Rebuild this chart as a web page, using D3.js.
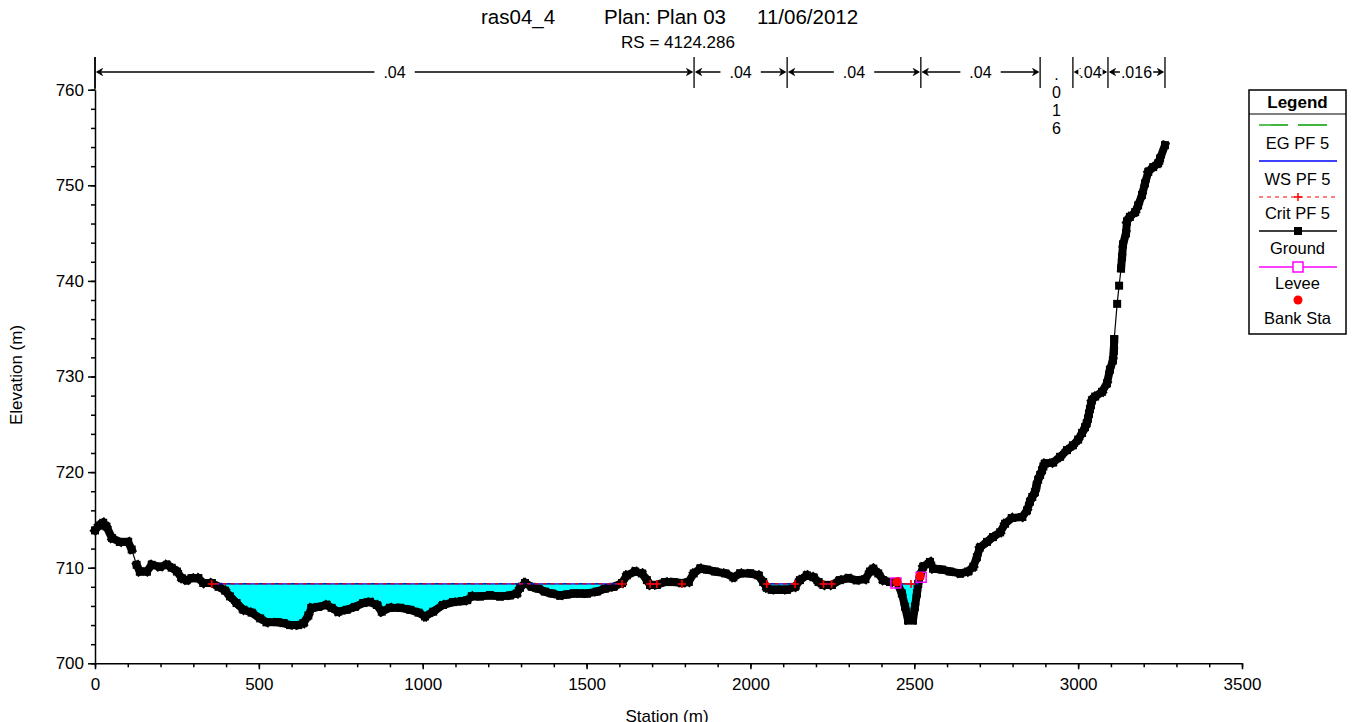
<!DOCTYPE html>
<html><head><meta charset="utf-8">
<script src="https://cdn.jsdelivr.net/npm/d3@7"></script>
<style>
body{margin:0;background:#fff;}
svg{display:block;}
text{font-family:Arial,"Liberation Sans",sans-serif;fill:#000;}
</style>
</head><body>
<svg id="c" width="1359" height="722"></svg>
<script>
// ---------- DATA ----------
const groundStation = [0,12,25,35,52,76,101,112,127,137,158,173,198,219,234,250,265,280,295,315,331,356,377,397,412,432,453,478,504,524,555,575,595,620,636,651,661,681,707,722,742,768,793,819,839,860,875,900,931,961,987,1007,1032,1062,1093,1120,1135,1150,1175,1205,1236,1266,1287,1297,1312,1333,1353,1373,1394,1419,1440,1460,1480,1501,1531,1556,1582,1608,1623,1648,1669,1684,1694,1714,1740,1765,1791,1811,1827,1847,1867,1892,1923,1948,1969,1999,2024,2039,2050,2065,2081,2096,2111,2136,2151,2172,2192,2208,2223,2248,2273,2299,2324,2350,2365,2375,2390,2405,2426,2447,2462,2472,2481,2496,2502,2508,2512,2518,2527,2548,2558,2584,2609,2640,2664,2680,2691,2700,2722,2740,2762,2777,2798,2829,2844,2853,2860,2868,2873,2878,2884,2890,2894,2899,2923,2945,2966,2984,3000,3012,3021,3026,3030,3033,3036,3039,3042,3052,3073,3088,3097,3106,3109,3110,3119,3125,3131,3134,3137,3146,3149,3158,3174,3183,3195,3204,3214,3229,3244,3250,3265];
const groundElev = [713.9,714.4,714.7,714.3,713.1,712.7,712.7,711.9,710.3,709.6,709.6,710.3,710.1,710.3,710.0,709.6,708.9,708.7,708.9,708.9,708.4,708.4,708.0,707.6,707.0,706.3,705.6,705.3,704.7,704.3,704.3,704.2,704.0,704.0,704.2,705.0,705.8,705.9,706.1,705.8,705.4,705.6,705.9,706.3,706.4,706.1,705.4,705.8,705.8,705.6,705.3,704.9,705.4,706.1,706.4,706.5,706.6,707.0,707.0,707.1,707.0,707.1,707.3,707.9,708.4,708.0,707.8,707.5,707.3,707.1,707.2,707.3,707.3,707.3,707.5,707.8,708.0,708.4,709.2,709.6,709.4,708.7,708.2,708.2,708.5,708.5,708.4,708.5,709.4,709.9,709.8,709.6,709.4,709.0,709.4,709.4,709.2,708.5,707.9,707.7,707.7,707.7,707.7,708.0,708.7,709.2,709.0,708.5,708.2,708.2,708.7,708.9,708.7,708.8,709.6,709.9,709.4,708.7,708.5,708.5,707.3,705.9,704.5,704.5,705.9,707.3,708.3,709.2,710.1,710.6,709.9,709.8,709.6,709.4,709.6,710.1,711.1,712.1,712.7,713.2,713.7,714.6,715.2,715.3,716.0,716.9,717.4,717.9,718.6,719.2,719.7,720.2,720.6,720.9,721.0,721.6,722.3,722.8,723.4,724.1,724.7,725.1,725.6,726.1,726.6,727.0,727.5,727.9,728.4,729.3,730.7,731.7,732.7,733.9,737.6,739.5,741.3,742.5,743.8,745.0,746.2,746.7,747.2,747.9,749.0,750.2,751.4,751.9,752.3,752.8,754.2];

const wsElev = 708.3;      // WS PF 5
const egElev = 708.33;     // EG PF 5
const critElev = 708.3;    // Crit PF 5
const critStations = [356,1608,1694,1714,1791,2050,2136,2223,2248,2490];
const leveeStations = [2444,2521];
const leveeElev = [708.4,709.0];
const bankStations = [2447,2518];
const bankElev = [708.5,709.1];

const nStations = [0,1828,2112,2520,2884,2984,3091,3265];
const nValues = [".04",".04",".04",".04",".016",".04",".016"];

const xTicks = [0,500,1000,1500,2000,2500,3000,3500];
const yTicks = [700,710,720,730,740,750,760];
const legendItems = ["EG PF 5","WS PF 5","Crit PF 5","Ground","Levee","Bank Sta"];

const titleParts = ["ras04_4","Plan: Plan 03","11/06/2012"];
const subTitle = "RS = 4124.286";

// ---------- DRAW ----------
const svg = d3.select("#c");
const x = d3.scaleLinear().domain([0,3500]).range([95,1242]);
const y = d3.scaleLinear().domain([700,760]).range([663.3,89.7]);
const ground = groundStation.map((s,i)=>({s, e: groundElev[i]}));
const sMax = groundStation[groundStation.length-1];

// titles
const titleX = [481, 604, 757];
titleParts.forEach((t,i)=>svg.append("text").attr("x",titleX[i]).attr("y",24)
  .attr("font-size",20.5).text(t));
svg.append("text").attr("x",678).attr("y",48).attr("text-anchor","middle")
  .attr("font-size",17).text(subTitle);

// clip: region above ground line
const clipPts = [[x(0),0]].concat(ground.map(d=>[x(d.s),y(d.e)])).concat([[x(sMax),0]]);
svg.append("clipPath").attr("id","wet").append("path").attr("d", d3.line()(clipPts)+"Z");

// water fill
const wetArea = d3.area().x(d=>x(d.s)).y0(y(wsElev)).y1(d=>y(Math.min(d.e, wsElev)));
svg.append("path").datum(ground).attr("d", wetArea).attr("fill","#00FFFF");

// axes
svg.append("g").attr("transform",`translate(0,${y(700)})`)
  .call(d3.axisBottom(x).tickValues(xTicks).tickSize(6).tickSizeOuter(0).tickPadding(9).tickFormat(d3.format("d")));
svg.append("g").attr("transform",`translate(0,${y(700)})`)
  .call(d3.axisBottom(x).tickValues(d3.range(0,3501,100)).tickSize(4).tickSizeOuter(0).tickFormat(""))
  .select(".domain").remove();
svg.append("g").attr("transform",`translate(${x(0)},0)`)
  .call(d3.axisLeft(y).tickValues(yTicks).tickSize(7).tickSizeOuter(0).tickPadding(4).tickFormat(d3.format("d")));
svg.append("g").attr("transform",`translate(${x(0)},0)`)
  .call(d3.axisLeft(y).tickValues(d3.range(700,761,2)).tickSize(4).tickSizeOuter(0).tickFormat(""))
  .select(".domain").remove();
svg.selectAll(".tick text").attr("font-size",17).attr("font-family",'Arial,"Liberation Sans",sans-serif').attr("fill","#000");
svg.selectAll(".domain, .tick line").attr("stroke","#000").attr("stroke-width",1.5);
svg.append("line").attr("x1",x(0)).attr("x2",x(0)).attr("y1",57).attr("y2",y(760)).attr("stroke","#000").attr("stroke-width",1.5);

svg.append("text").attr("x",667).attr("y",722).attr("text-anchor","middle").attr("font-size",17).text("Station (m)");
svg.append("text").attr("transform","translate(22,375) rotate(-90)").attr("text-anchor","middle").attr("font-size",17).text("Elevation (m)");

// n-value bar
const nY = 72;
nStations.forEach(s=>{
  svg.append("line").attr("x1",x(s)).attr("x2",x(s)).attr("y1",57).attr("y2",88)
    .attr("stroke","#000").attr("stroke-width",1.3);
});
nValues.forEach((v,i)=>{
  const x0 = x(nStations[i]), x1 = x(nStations[i+1]), xc=(x0+x1)/2;
  if (x1-x0 < 34) {
    v.split("").forEach((ch,k)=>svg.append("text").attr("x",xc).attr("y",80+k*18)
      .attr("text-anchor","middle").attr("font-size",16).text(ch));
    return;
  }
  svg.append("line").attr("x1",x0+2).attr("x2",x1-2).attr("y1",nY).attr("y2",nY).attr("stroke","#000").attr("stroke-width",1.3);
  svg.append("path").attr("d",`M${x0+1.5},${nY}L${x0+7.5},${nY-3.5}L${x0+5.5},${nY}L${x0+7.5},${nY+3.5}Z`).attr("fill","#000").attr("stroke","#000").attr("stroke-width",0.8);
  svg.append("path").attr("d",`M${x1-1.5},${nY}L${x1-7.5},${nY-3.5}L${x1-5.5},${nY}L${x1-7.5},${nY+3.5}Z`).attr("fill","#000").attr("stroke","#000").attr("stroke-width",0.8);
  const t = svg.append("text").attr("x",xc).attr("y",nY+6).attr("text-anchor","middle").attr("font-size",16).text(v);
  const bb = t.node().getBBox();
  const pad = (x1-x0) > 80 ? 9 : 1;
  svg.insert("rect", () => t.node()).attr("x",bb.x-pad).attr("y",nY-3).attr("width",bb.width+2*pad).attr("height",6).attr("fill","#fff");
});

// ground: thin line, dense survey points render as a solid band of markers
const gLine = d3.line().x(d=>x(d.s)).y(d=>y(d.e));
svg.append("path").datum(ground).attr("d",gLine).attr("fill","none").attr("stroke","#000").attr("stroke-width",1.2);
const segs = d3.pairs(ground).filter(([a,b])=>Math.hypot(x(b.s)-x(a.s), y(b.e)-y(a.e)) < 15);
svg.append("g").selectAll("line").data(segs).join("line")
  .attr("x1",d=>x(d[0].s)).attr("y1",d=>y(d[0].e)).attr("x2",d=>x(d[1].s)).attr("y2",d=>y(d[1].e))
  .attr("stroke","#000").attr("stroke-width",8).attr("stroke-linecap","square");
svg.append("g").selectAll("rect").data(ground).join("rect")
  .attr("x",d=>x(d.s)-4).attr("y",d=>y(d.e)-4).attr("width",8).attr("height",8).attr("fill","#000");

// EG / WS / Crit lines, clipped to wet region
const wl = svg.append("g").attr("clip-path","url(#wet)");
wl.append("line").attr("x1",x(0)).attr("x2",x(sMax)).attr("y1",y(egElev)).attr("y2",y(egElev)).attr("stroke","#00a000").attr("stroke-width",1.2).attr("stroke-dasharray","12,4");
wl.append("line").attr("x1",x(0)).attr("x2",x(sMax)).attr("y1",y(wsElev)).attr("y2",y(wsElev)).attr("stroke","#0000ff").attr("stroke-width",1.2);
wl.append("line").attr("x1",x(0)).attr("x2",x(sMax)).attr("y1",y(critElev)).attr("y2",y(critElev)).attr("stroke","#ff0000").attr("stroke-width",1.2).attr("stroke-dasharray","4,4");

// crit markers
svg.append("g").selectAll("path").data(critStations).join("path")
  .attr("d",s=>`M${x(s)-4},${y(critElev)}H${x(s)+4}M${x(s)},${y(critElev)-4}V${y(critElev)+4}`)
  .attr("stroke","#ff0000").attr("stroke-width",1.6);

// levee + bank stations
leveeStations.forEach((s,i)=>svg.append("rect").attr("x",x(s)-5).attr("y",y(leveeElev[i])-5).attr("width",10).attr("height",10)
  .attr("fill","none").attr("stroke","#ff00ff").attr("stroke-width",1.5));
bankStations.forEach((s,i)=>svg.append("circle").attr("cx",x(s)).attr("cy",y(bankElev[i])).attr("r",4.5).attr("fill","#ff0000"));

// legend
const L = svg.append("g");
L.append("rect").attr("x",1249).attr("y",90).attr("width",97).attr("height",244).attr("fill","#fff").attr("stroke","#000").attr("stroke-width",1.5);
L.append("line").attr("x1",1249).attr("x2",1346).attr("y1",114).attr("y2",114).attr("stroke","#000").attr("stroke-width",1.2);
L.append("text").attr("x",1297.5).attr("y",108).attr("text-anchor","middle").attr("font-size",17).attr("font-weight","bold").text("Legend");
const symY = [125,161,197,231,267,300];
const labY = [149,185,219,254,289,324];
legendItems.forEach((t,i)=>L.append("text").attr("x",1297.5).attr("y",labY[i]).attr("text-anchor","middle").attr("font-size",16.5).text(t));
L.append("line").attr("x1",1259).attr("x2",1337).attr("y1",symY[0]).attr("y2",symY[0]).attr("stroke","#00a000").attr("stroke-width",1.3).attr("stroke-dasharray","29,10");
L.append("line").attr("x1",1259).attr("x2",1337).attr("y1",symY[1]).attr("y2",symY[1]).attr("stroke","#0000ff").attr("stroke-width",1.5);
L.append("line").attr("x1",1259).attr("x2",1337).attr("y1",symY[2]).attr("y2",symY[2]).attr("stroke","#ff0000").attr("stroke-width",1.2).attr("stroke-dasharray","4,4");
L.append("path").attr("d",`M1294,${symY[2]}H1302M1298,${symY[2]-4}V${symY[2]+4}`).attr("stroke","#ff0000").attr("stroke-width",1.5);
L.append("line").attr("x1",1259).attr("x2",1337).attr("y1",symY[3]).attr("y2",symY[3]).attr("stroke","#000").attr("stroke-width",1.3);
L.append("rect").attr("x",1294).attr("y",symY[3]-4).attr("width",8).attr("height",8).attr("fill","#000");
L.append("line").attr("x1",1259).attr("x2",1337).attr("y1",symY[4]).attr("y2",symY[4]).attr("stroke","#ff00ff").attr("stroke-width",1.3);
L.append("rect").attr("x",1293).attr("y",symY[4]-5).attr("width",10).attr("height",10).attr("fill","#fff").attr("stroke","#ff00ff").attr("stroke-width",1.5);
L.append("circle").attr("cx",1298).attr("cy",symY[5]).attr("r",4.5).attr("fill","#ff0000");
</script>
</body></html>
